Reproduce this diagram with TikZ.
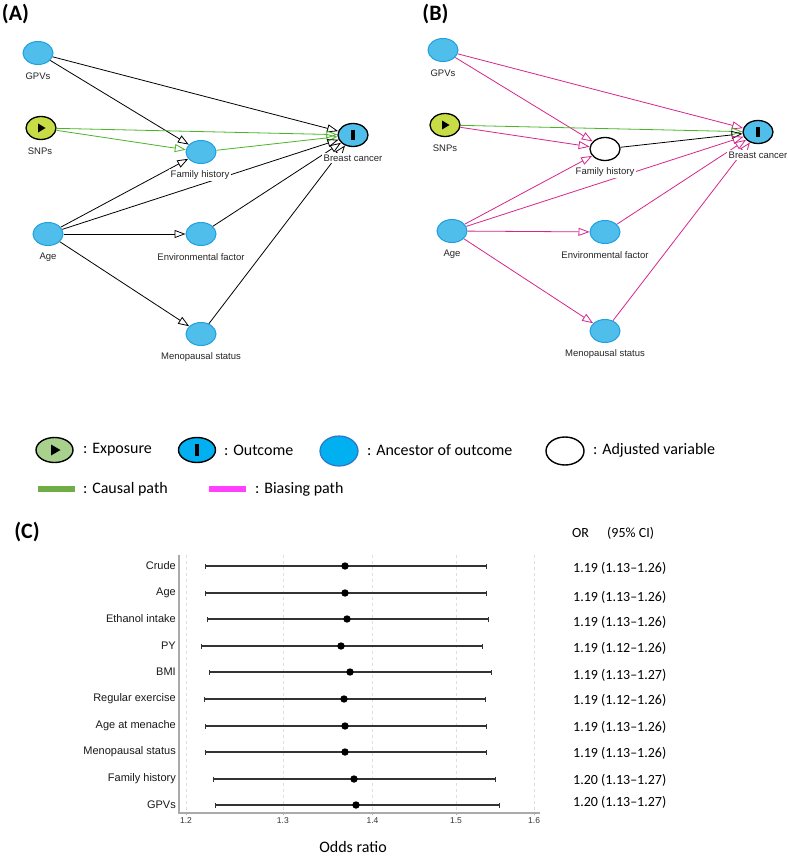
\documentclass[tikz,border=0pt]{standalone}
\usepackage{fontspec}
\usetikzlibrary{shapes.geometric,arrows.meta}
\newfontfamily\carl{Carlito}
\newfontfamily\arl{Liberation Sans}
\definecolor{dagblue}{RGB}{80,190,235}
\definecolor{dagblueB}{RGB}{30,160,225}
\definecolor{dagyel}{RGB}{200,220,70}
\definecolor{dagcausal}{RGB}{76,180,40}
\definecolor{dagbias}{RGB}{214,38,140}
\definecolor{legexp}{RGB}{169,209,142}
\definecolor{legblue}{RGB}{0,176,240}
\definecolor{legblueB}{RGB}{46,117,200}
\definecolor{leggreen}{RGB}{112,173,71}
\definecolor{legpink}{RGB}{255,64,255}
\definecolor{gridgray}{RGB}{222,222,222}
\definecolor{axisgray}{RGB}{170,170,170}
\tikzset{
  dnode/.style={ellipse, minimum width=30pt, minimum height=23pt, inner sep=0pt, line width=1pt},
  anc/.style={dnode, fill=dagblue, draw=dagblueB},
  expo/.style={dnode, fill=dagyel, draw=black, line width=1.3pt},
  outc/.style={dnode, fill=dagblue, draw=black, line width=1.3pt},
  adj/.style={dnode, fill=white, draw=black, line width=1.3pt},
  lab/.style={fill=white, inner sep=1.5pt, text=black!85, font=\arl\fontsize{9.5}{11}\selectfont},
  edge/.style={-{Triangle[open,length=11pt,width=8pt]}, line width=0.8pt, draw=black},
  causal/.style={draw=dagcausal},
  bias/.style={draw=dagbias},
  panel/.style={font=\carl\bfseries\fontsize{22}{26}\selectfont, inner sep=0pt},
  legtext/.style={anchor=west, inner sep=0pt, font=\carl\fontsize{16}{19}\selectfont},
  legell/.style={ellipse, inner sep=0pt, line width=1.4pt},
  rowlab/.style={anchor=east, inner sep=0pt, font=\arl\fontsize{11}{13}\selectfont, text=black!90},
  valtext/.style={anchor=west, inner sep=0pt, font=\carl\fontsize{14}{17}\selectfont},
  ticklab/.style={inner sep=0pt, font=\arl\fontsize{8.5}{10}\selectfont, text=black!80},
}
\begin{document}
\begin{tikzpicture}[x=1pt,y=-1pt]
\useasboundingbox (0,0) rectangle (787,856);
\fill[white] (0,0) rectangle (787,856);

% ---------------- Panel A ----------------
\node[panel] (pA) at (15.5,14) {(A)};
\node[anc]  (gpvA)  at (38,53)  {};
\node[expo] (snpA)  at (41,128) {};
\node[anc]  (fhA)   at (201,152) {};
\node[outc] (bcA)   at (353,135) {};
\node[anc]  (ageA)  at (48,234) {};
\node[anc]  (envA)  at (201,234) {};
\node[anc]  (menoA) at (201,334) {};
\fill[shift={(snpA.center)}] (-3,-4.5) -- (-3,4.5) -- (4.5,0) -- cycle;
\fill[shift={(bcA.center)}] (-1.6,-4.5) rectangle (1.6,4.5);

\draw[edge] (gpvA) -- (bcA);
\draw[edge] (gpvA) -- (fhA);
\draw[edge,causal] (snpA) -- (bcA);
\draw[edge,causal] (snpA) -- (fhA);
\draw[edge,causal] (fhA) -- (bcA);
\draw[edge] (ageA) -- (fhA);
\draw[edge] (ageA) -- (bcA);
\draw[edge] (ageA) -- (envA);
\draw[edge] (ageA) -- (menoA);
\draw[edge] (envA) -- (bcA);
\draw[edge] (menoA) -- (bcA);

\node[lab] (gpvAL)  at (38,76)  {GPVs};
\node[lab] (snpAL)  at (40,151) {SNPs};
\node[lab] (fhAL)   at (200,175) {Family history};
\node[lab] (bcAL)   at (353,158) {Breast cancer};
\node[lab] (ageAL)  at (48,257) {Age};
\node[lab] (envAL)  at (201,257) {Environmental factor};
\node[lab] (menoAL) at (201,357) {Menopausal status};

% ---------------- Panel B ----------------
\node[panel] (pB) at (435.5,14) {(B)};
\node[anc]  (gpvB)  at (443,50)  {};
\node[expo] (snpB)  at (445,125) {};
\node[adj]  (fhB)   at (605,149) {};
\node[outc] (bcB)   at (758,132) {};
\node[anc]  (ageB)  at (452,231) {};
\node[anc]  (envB)  at (605,232) {};
\node[anc]  (menoB) at (605,331) {};
\fill[shift={(snpB.center)}] (-3,-4.5) -- (-3,4.5) -- (4.5,0) -- cycle;
\fill[shift={(bcB.center)}] (-1.6,-4.5) rectangle (1.6,4.5);

\draw[edge,bias] (gpvB) -- (bcB);
\draw[edge,bias] (gpvB) -- (fhB);
\draw[edge,causal] (snpB) -- (bcB);
\draw[edge,bias] (snpB) -- (fhB);
\draw[edge] (fhB) -- (bcB);
\draw[edge,bias] (ageB) -- (fhB);
\draw[edge,bias] (ageB) -- (bcB);
\draw[edge,bias] (ageB) -- (envB);
\draw[edge,bias] (ageB) -- (menoB);
\draw[edge,bias] (envB) -- (bcB);
\draw[edge,bias] (menoB) -- (bcB);

\node[lab] (gpvBL)  at (443,73)  {GPVs};
\node[lab] (snpBL)  at (445,148) {SNPs};
\node[lab] (fhBL)   at (605,172) {Family history};
\node[lab] (bcBL)   at (758,155) {Breast cancer};
\node[lab] (ageBL)  at (452,254) {Age};
\node[lab] (envBL)  at (605,255) {Environmental factor};
\node[lab] (menoBL) at (605,354) {Menopausal status};

% ---------------- Legend ----------------
\node[legell, fill=legexp, draw=black, minimum width=37pt, minimum height=25pt] (legExp) at (54.5,450) {};
\fill[shift={(legExp.center)}] (-3.5,-5.5) -- (-3.5,5.5) -- (6,0) -- cycle;
\node[legtext] (legExpT) at (83,450) {: Exposure};
\node[legell, fill=legblue, draw=black, minimum width=37pt, minimum height=25pt] (legOut) at (197,450) {};
\fill[shift={(legOut.center)}] (-2,-6) rectangle (2,6);
\node[legtext] (legOutT) at (224,450) {: Outcome};
\node[legell, fill=legblue, draw=legblueB, line width=1.2pt, minimum width=38pt, minimum height=30pt] (legAnc) at (339,451) {};
\node[legtext] (legAncT) at (367,450) {: Ancestor of outcome};
\node[legell, fill=white, draw=black, minimum width=38pt, minimum height=28pt] (legAdj) at (565,451) {};
\node[legtext] (legAdjT) at (593,450) {: Adjusted variable};

\coordinate (cg1) at (38,489);
\coordinate (cg2) at (75,489);
\draw[leggreen, line width=5.5pt] (cg1) -- (cg2);
\node[legtext] (legCauT) at (83,489) {: Causal path};
\coordinate (cp1) at (209,489);
\coordinate (cp2) at (246,489);
\draw[legpink, line width=5.5pt] (cp1) -- (cp2);
\node[legtext] (legBiaT) at (255,489) {: Biasing path};

% ---------------- Panel C ----------------
\node[panel] (pC) at (27,532) {(C)};
\node[valtext] (orT) at (572,533) {OR};
\node[valtext] (ciT) at (607,533) {(95\% CI)};

% grid
\foreach \gx/\gl in {186/1.2, 282.9/1.3, 372.5/1.4, 456/1.5, 534.1/1.6} {
  \draw[gridgray, dashed, line width=0.6pt] (\gx,555) -- (\gx,812);
  \draw[axisgray, line width=0.6pt] (\gx,812) -- (\gx,815);
  \node[ticklab] (tick\gl) at (\gx,821) {\gl};
}
% axes
\draw[axisgray, line width=1.6pt] (179,555) -- (179,812.8) -- (540,812.8);

% rows
\foreach \i/\lab/\ry/\lo/\pt/\hi in {
  1/Crude/566/205/345/486,
  2/Age/593/205/345/486,
  3/Ethanol intake/619/207/347/488,
  4/PY/646/201/341/482,
  5/BMI/672/209/350/491,
  6/Regular exercise/699/204/344/485,
  7/Age at menache/726/205/345/486,
  8/Menopausal status/752/205/345/486,
  9/Family history/779/213/354/495,
  10/GPVs/805/215/356/499} {
  \node[rowlab] (row\i) at (176,\ry) {\lab};
  \draw[black!80, line width=1.1pt] (\lo,\ry) -- (\hi,\ry);
  \draw[black!80, line width=0.9pt] (\lo,\ry-2.5) -- (\lo,\ry+2.5);
  \draw[black!80, line width=0.9pt] (\hi,\ry-2.5) -- (\hi,\ry+2.5);
  \fill[black] (\pt,\ry) circle (3.7pt);
}

% values
\foreach \i/\vy/\val in {
  1/568/1.19 (1.13–1.26),
  2/597/1.19 (1.13–1.26),
  3/622/1.19 (1.13–1.26),
  4/648/1.19 (1.12–1.26),
  5/675/1.19 (1.13–1.27),
  6/700/1.19 (1.12–1.26),
  7/727/1.19 (1.13–1.26),
  8/753/1.19 (1.13–1.26),
  9/780/1.20 (1.13–1.27),
  10/802/1.20 (1.13–1.27)} {
  \node[valtext] (val\i) at (573,\vy) {\val};
}

\node[inner sep=0pt, font=\carl\fontsize{16}{19}\selectfont] (xlab) at (353,847) {Odds ratio};
\end{tikzpicture}
\end{document}
